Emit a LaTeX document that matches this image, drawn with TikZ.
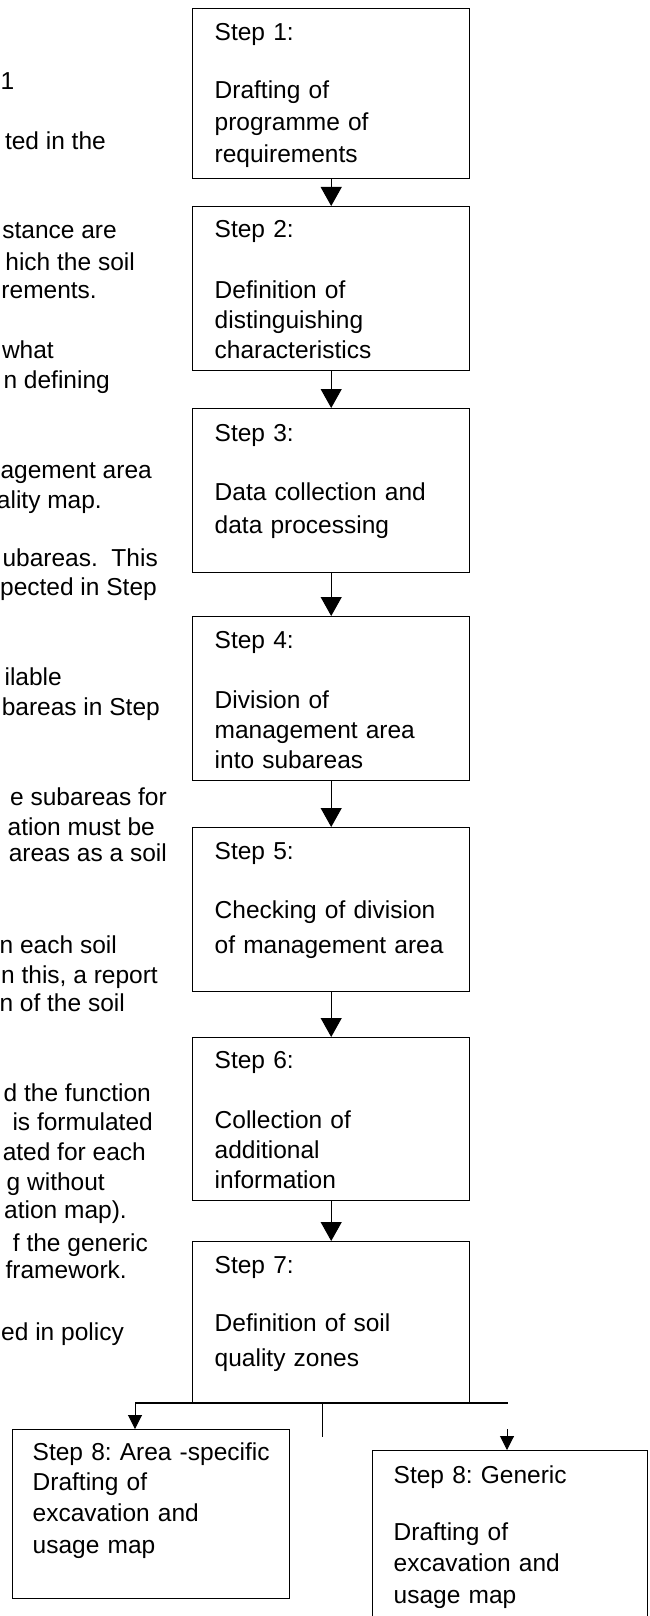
\documentclass[tikz,border=0pt]{standalone}
\usepackage{fontspec}
\setmainfont{Liberation Sans}
\usetikzlibrary{arrows.meta}
\frenchspacing
\newcommand{\boxfont}{\fontsize{24.5}{30}\selectfont}
\tikzset{stepbox/.style={draw, line width=1.4pt, anchor=north west, inner xsep=22pt, inner ysep=0pt, text width=233pt, align=left, font=\boxfont}}
\tikzset{margtext/.style={anchor=base east, inner sep=0pt, font=\boxfont}}
\tikzset{flow/.style={line width=1pt, -{Triangle[width=21pt,length=19pt]}}}
\tikzset{branch/.style={line width=1pt, -{Triangle[width=14pt,length=14pt]}}}

\begin{document}
\begin{tikzpicture}[x=1pt,y=-1pt]
      \useasboundingbox (0,0) rectangle (649,1616);
      \clip (0,0) rectangle (649,1616);
      % steps
      \node[stepbox] (s1) at (192,8) {\rule{0pt}{32pt}Step 1:\\[28pt] Drafting of\\[2pt] programme of\\[2pt] requirements\rule[-16pt]{0pt}{16pt}};
      \node[stepbox] (s2) at (192,206) {\rule{0pt}{31pt}Step 2:\\[31pt] Definition of\\ distinguishing\\ characteristics\rule[-12pt]{0pt}{12pt}};
      \node[stepbox] (s3) at (192,408) {\rule{0pt}{33pt}Step 3:\\[29pt] Data collection and\\[3pt] data processing\rule[-39pt]{0pt}{39pt}};
      \node[stepbox] (s4) at (192,616) {\rule{0pt}{32pt}Step 4:\\[30pt] Division of\\ management area\\ into subareas\rule[-12pt]{0pt}{12pt}};
      \node[stepbox] (s5) at (192,827) {\rule{0pt}{32pt}Step 5:\\[29pt] Checking of division\\[5pt] of management area\rule[-38pt]{0pt}{38pt}};
      \node[stepbox] (s6) at (192,1037) {\rule{0pt}{31pt}Step 6:\\[30pt] Collection of\\ additional\\ information\rule[-12pt]{0pt}{12pt}};
      \node[stepbox] (s7) at (192,1241) {\rule{0pt}{32pt}Step 7:\\[28pt] Definition of soil\\[5pt] quality zones\rule[-37pt]{0pt}{37pt}};
      \node[stepbox, inner xsep=20pt, text width=237pt] (s8a) at (12,1429) {\rule{0pt}{31pt}\mbox{Step 8: Area -specific}\\ Drafting of\\[1pt] excavation and\\[2pt] usage map\rule[-45pt]{0pt}{45pt}};
      \node[stepbox, inner xsep=21pt] (s8b) at (372,1450) {\rule{0pt}{33pt}Step 8: Generic\\[27pt] Drafting of\\[1pt] excavation and\\[2pt] usage map\rule[-30pt]{0pt}{30pt}};
      \draw[flow] (s1.south) -- (s2.north);
      \draw[flow] (s2.south) -- (s3.north);
      \draw[flow] (s3.south) -- (s4.north);
      \draw[flow] (s4.south) -- (s5.north);
      \draw[flow] (s5.south) -- (s6.north);
      \draw[flow] (s6.south) -- (s7.north);
      % split under step 7
      \coordinate (jl) at (135,1403);
      \coordinate (jr) at (508,1403);
      \coordinate (jm) at (322,1437);
      \coordinate (jt) at (507,1429);
      \draw[line width=1.2pt] (jl) -- (jr);
      \draw[line width=1pt] (jm |- s7.south) -- (jm);
      \draw[branch] (jl) -- (jl |- s8a.north);
      \draw[branch] (jt) -- (jt |- s8b.north);
      % text cut off on the left
      \node[margtext, anchor=base west] (m1) at (0.5,90) {1};
      \node[margtext] (m2) at (106,150) {ted in the};
      \node[margtext] (m3) at (117,238) {stance are};
      \node[margtext] (m4) at (135,270) {hich the soil};
      \node[margtext] (m5) at (97,298) {rements.};
      \node[margtext] (m6) at (54,358) {what};
      \node[margtext] (m7) at (110,388) {n defining};
      \node[margtext] (m8) at (152,478) {agement area};
      \node[margtext] (m9) at (102,508) {ality map.};
      \node[margtext] (m10) at (158,566) {ubareas.\ \ This};
      \node[margtext] (m11) at (157,595) {pected in Step};
      \node[margtext] (m12) at (62,685) {ilable};
      \node[margtext] (m13) at (160,715) {bareas in Step};
      \node[margtext] (m14) at (167,805) {e subareas for};
      \node[margtext] (m15) at (155,835) {ation must be};
      \node[margtext] (m16) at (167,861) {areas as a soil};
      \node[margtext] (m17) at (117,953) {n each soil};
      \node[margtext] (m18) at (158,983) {n this, a report};
      \node[margtext] (m19) at (125,1011) {n of the soil};
      \node[margtext] (m20) at (151,1101) {d the function};
      \node[margtext] (m21) at (153,1130) {is formulated};
      \node[margtext] (m22) at (146,1160) {ated for each};
      \node[margtext] (m23) at (105,1190) {g without};
      \node[margtext] (m24) at (127,1218) {ation map).};
      \node[margtext] (m25) at (148,1251) {f the generic};
      \node[margtext] (m26) at (127,1278) {framework.};
      \node[margtext] (m27) at (124,1340) {ed in policy};
\end{tikzpicture}
\end{document}
